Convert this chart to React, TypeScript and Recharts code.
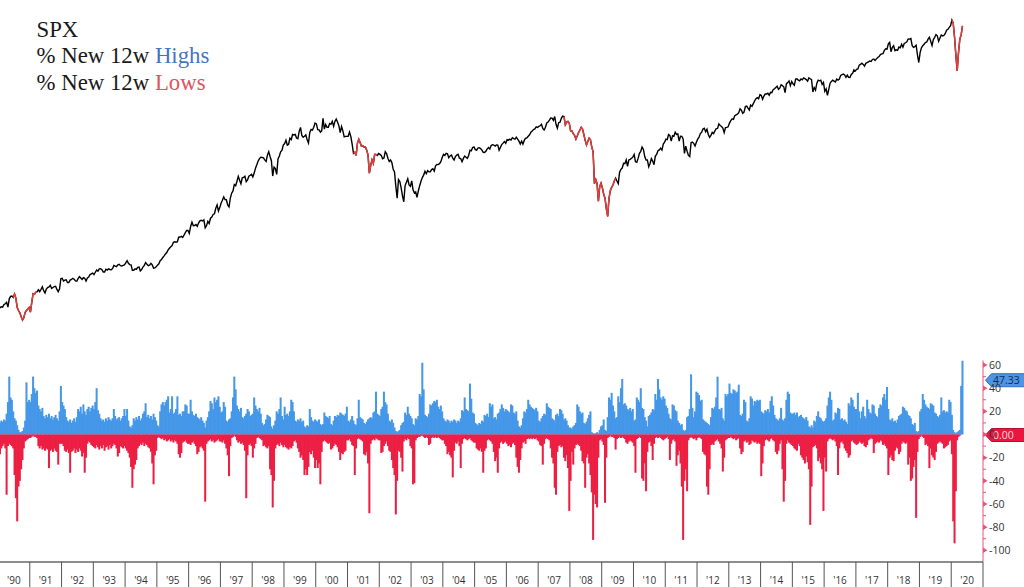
import React from 'react';
import { LineChart, Line, XAxis, YAxis, BarChart, Bar, ReferenceLine } from 'recharts';

// Half-month bins starting January 1990
const FIRST_YEAR = 1990;
const BINS_PER_YEAR = 24;
const YEARS = [1990, 1991, 1992, 1993, 1994, 1995, 1996, 1997, 1998, 1999, 2000, 2001, 2002, 2003, 2004, 2005, 2006, 2007, 2008, 2009, 2010, 2011, 2012, 2013, 2014, 2015, 2016, 2017, 2018, 2019, 2020];

const SPX = [
  340, 329, 332, 331, 338, 340, 344, 331, 354, 361, 362, 358, 368, 356, 330, 322, 316, 306, 298, 304, 317, 322, 326, 330,
  318, 344, 369, 367, 373, 375, 381, 375, 382, 390, 378, 371, 383, 388, 390, 395, 385, 388, 391, 392, 382, 375, 384, 417,
  418, 409, 412, 413, 404, 404, 412, 414, 418, 415, 409, 408, 417, 424, 419, 414, 420, 418, 409, 419, 422, 431, 433, 436,
  431, 439, 447, 443, 451, 452, 448, 440, 440, 450, 447, 451, 449, 448, 452, 464, 461, 459, 466, 468, 463, 462, 464, 466,
  474, 482, 472, 467, 466, 446, 446, 451, 449, 457, 458, 444, 449, 458, 464, 475, 468, 463, 465, 472, 466, 454, 455, 459,
  465, 470, 482, 487, 495, 501, 509, 515, 526, 533, 540, 545, 560, 562, 560, 562, 583, 584, 587, 582, 593, 605, 616, 616,
  601, 636, 659, 640, 641, 646, 637, 654, 666, 669, 665, 671, 629, 640, 663, 652, 680, 687, 701, 705, 737, 757, 721, 741,
  768, 786, 808, 791, 790, 757, 745, 801, 833, 848, 893, 885, 917, 954, 925, 899, 943, 947, 955, 915, 928, 955, 963, 970,
  950, 980, 1020, 1049, 1080, 1102, 1115, 1112, 1108, 1091, 1077, 1134, 1165, 1121, 1083, 957, 1029, 1017, 970, 1099, 1125, 1164, 1180, 1229,
  1245, 1280, 1230, 1238, 1300, 1286, 1340, 1335, 1340, 1302, 1295, 1373, 1418, 1329, 1310, 1320, 1335, 1283, 1250, 1363, 1395, 1389, 1420, 1469,
  1460, 1394, 1390, 1366, 1380, 1527, 1400, 1452, 1420, 1421, 1465, 1455, 1490, 1431, 1490, 1518, 1480, 1437, 1360, 1429, 1380, 1315, 1320, 1320,
  1320, 1366, 1320, 1240, 1150, 1160, 1130, 1249, 1290, 1256, 1220, 1224, 1210, 1211, 1180, 1134, 980, 1041, 1090, 1060, 1140, 1139, 1130, 1148,
  1140, 1130, 1100, 1107, 1165, 1147, 1105, 1077, 1090, 1067, 1010, 990, 880, 800, 930, 916, 870, 815, 777, 886, 910, 936, 890, 880,
  920, 856, 835, 841, 805, 848, 885, 917, 945, 964, 995, 975, 1000, 990, 990, 1008, 1015, 996, 1040, 1051, 1050, 1058, 1075, 1112,
  1140, 1131, 1150, 1145, 1110, 1126, 1135, 1107, 1090, 1121, 1135, 1141, 1105, 1102, 1075, 1104, 1125, 1115, 1105, 1130, 1180, 1174, 1205, 1212,
  1185, 1181, 1200, 1204, 1195, 1181, 1160, 1157, 1170, 1192, 1205, 1191, 1225, 1234, 1230, 1220, 1230, 1229, 1180, 1207, 1235, 1249, 1265, 1248,
  1285, 1280, 1290, 1281, 1305, 1295, 1290, 1311, 1290, 1270, 1240, 1270, 1240, 1277, 1300, 1304, 1320, 1336, 1365, 1378, 1395, 1401, 1425, 1418,
  1430, 1438, 1455, 1407, 1390, 1421, 1470, 1482, 1505, 1531, 1530, 1503, 1550, 1455, 1410, 1474, 1480, 1527, 1555, 1549, 1450, 1481, 1490, 1468,
  1380, 1379, 1350, 1331, 1290, 1323, 1360, 1386, 1420, 1400, 1340, 1280, 1230, 1267, 1300, 1283, 1210, 1165, 900, 930, 900, 780, 880, 903,
  870, 826, 800, 735, 690, 798, 850, 873, 890, 919, 940, 919, 900, 987, 1010, 1021, 1060, 1057, 1090, 1036, 1090, 1096, 1105, 1115,
  1140, 1074, 1070, 1104, 1150, 1169, 1210, 1187, 1120, 1089, 1090, 1031, 1060, 1102, 1080, 1049, 1125, 1141, 1175, 1183, 1200, 1181, 1240, 1258,
  1290, 1286, 1340, 1327, 1270, 1326, 1320, 1364, 1340, 1345, 1270, 1321, 1320, 1292, 1150, 1219, 1170, 1131, 1120, 1253, 1260, 1247, 1220, 1258,
  1290, 1312, 1350, 1366, 1400, 1408, 1370, 1398, 1340, 1310, 1330, 1362, 1350, 1379, 1405, 1407, 1460, 1441, 1430, 1412, 1360, 1416, 1420, 1426,
  1470, 1498, 1520, 1515, 1560, 1569, 1580, 1598, 1650, 1631, 1590, 1606, 1680, 1686, 1660, 1633, 1700, 1682, 1720, 1757, 1790, 1806, 1790, 1848,
  1840, 1783, 1830, 1859, 1860, 1872, 1840, 1884, 1880, 1924, 1940, 1960, 1980, 1931, 1950, 2003, 1990, 1972, 1880, 2018, 2040, 2068, 1990, 2059,
  2020, 1995, 2100, 2105, 2080, 2068, 2100, 2086, 2120, 2107, 2090, 2063, 2120, 2104, 2090, 1890, 1960, 1920, 2030, 2079, 2070, 2080, 2010, 2044,
  1900, 1940, 1840, 1932, 2030, 2060, 2080, 2065, 2050, 2097, 2080, 2099, 2160, 2174, 2185, 2171, 2130, 2168, 2130, 2126, 2180, 2199, 2260, 2239,
  2270, 2279, 2350, 2364, 2385, 2363, 2330, 2384, 2400, 2412, 2430, 2423, 2460, 2470, 2440, 2472, 2500, 2519, 2560, 2575, 2580, 2648, 2680, 2674,
  2790, 2824, 2620, 2714, 2750, 2641, 2660, 2648, 2720, 2705, 2780, 2718, 2800, 2816, 2840, 2902, 2900, 2914, 2750, 2712, 2730, 2760, 2550, 2400,
  2600, 2704, 2750, 2784, 2820, 2834, 2900, 2946, 2850, 2752, 2890, 2942, 3010, 2980, 2850, 2926, 3000, 2977, 2990, 3038, 3120, 3141, 3190, 3231,
  3386, 3300, 2950, 2550, 2240, 2600, 2900, 3000, 3230,
];

const PCT_NEW_HIGHS = [
  8, 10, 12, 11, 13, 12, 18, 28, 50, 32, 30, 20, 14, 12, 8, 4, 2, 2, 3, 6, 12, 45, 28, 30,
  28, 35, 50, 40, 36, 38, 25, 22, 20, 23, 16, 14, 17, 15, 18, 14, 16, 13, 15, 17, 14, 12, 20, 42,
  28, 25, 22, 15, 12, 11, 13, 10, 12, 14, 11, 15, 22, 20, 24, 18, 26, 20, 17, 22, 24, 20, 23, 25,
  22, 28, 40, 21, 18, 14, 12, 13, 11, 14, 12, 15, 13, 12, 14, 22, 16, 13, 14, 15, 12, 14, 16, 22,
  16, 22, 12, 7, 6, 8, 14, 12, 15, 13, 16, 12, 14, 18, 20, 27, 15, 17, 14, 16, 13, 18, 15, 12,
  8, 7, 20, 26, 28, 25, 28, 30, 33, 19, 22, 33, 18, 19, 22, 33, 17, 18, 16, 20, 20, 26, 25, 18,
  18, 30, 20, 17, 16, 18, 15, 14, 13, 15, 12, 10, 6, 12, 15, 20, 29, 27, 22, 32, 28, 30, 33, 24,
  19, 20, 28, 24, 12, 11, 13, 14, 20, 32, 50, 39, 25, 22, 20, 23, 15, 14, 16, 18, 22, 20, 16, 17,
  18, 32, 25, 22, 20, 23, 18, 10, 8, 9, 13, 17, 16, 15, 7, 5, 8, 12, 20, 18, 22, 32, 16, 13,
  24, 17, 18, 16, 20, 30, 28, 20, 12, 11, 13, 12, 14, 11, 12, 7, 6, 8, 7, 22, 15, 12, 11, 13,
  12, 11, 13, 9, 8, 9, 19, 16, 15, 14, 16, 9, 8, 12, 16, 15, 17, 16, 19, 18, 17, 16, 18, 24,
  12, 11, 13, 16, 12, 9, 8, 14, 30, 15, 14, 13, 10, 9, 11, 13, 14, 15, 14, 19, 20, 37, 18, 17,
  16, 22, 24, 37, 28, 26, 18, 12, 11, 13, 10, 6, 3, 2, 3, 4, 8, 10, 11, 19, 17, 24, 18, 16,
  14, 9, 8, 14, 13, 16, 35, 33, 62, 39, 17, 16, 15, 18, 26, 25, 27, 29, 28, 30, 24, 22, 25, 20,
  14, 12, 11, 13, 12, 10, 12, 11, 13, 12, 10, 12, 11, 14, 21, 20, 32, 22, 21, 20, 44, 31, 19, 18,
  10, 9, 8, 10, 9, 12, 11, 17, 16, 18, 15, 27, 24, 26, 14, 15, 13, 18, 19, 22, 26, 23, 20, 22,
  21, 20, 19, 26, 25, 19, 18, 20, 12, 7, 6, 8, 14, 20, 19, 22, 30, 26, 24, 23, 22, 21, 23, 20,
  12, 11, 14, 16, 18, 17, 27, 24, 23, 22, 14, 13, 12, 17, 18, 16, 22, 21, 18, 13, 14, 12, 8, 6,
  6, 5, 7, 8, 10, 26, 24, 20, 18, 19, 10, 9, 11, 14, 17, 20, 2, 1, 1, 1, 2, 1, 4, 7,
  8, 13, 4, 3, 15, 32, 30, 36, 25, 20, 14, 15, 33, 28, 40, 48, 26, 27, 25, 22, 21, 23, 20, 22,
  12, 13, 32, 30, 28, 40, 23, 22, 15, 12, 7, 16, 17, 19, 22, 21, 35, 30, 48, 39, 32, 30, 33, 31,
  25, 23, 18, 14, 13, 26, 25, 21, 20, 12, 10, 8, 9, 4, 3, 4, 15, 16, 22, 52, 23, 15, 20, 37,
  36, 34, 29, 30, 13, 12, 11, 10, 9, 8, 15, 23, 22, 24, 32, 50, 22, 21, 23, 14, 12, 35, 33, 35,
  44, 36, 35, 39, 38, 36, 37, 43, 17, 16, 18, 30, 28, 12, 11, 14, 33, 31, 25, 29, 28, 30, 29, 30,
  20, 19, 18, 21, 20, 22, 19, 29, 33, 25, 17, 14, 13, 12, 14, 23, 13, 12, 14, 30, 37, 35, 19, 18,
  18, 19, 17, 19, 15, 16, 17, 15, 14, 13, 15, 12, 7, 6, 8, 6, 12, 11, 16, 20, 15, 14, 12, 11,
  12, 14, 25, 32, 37, 30, 12, 13, 19, 18, 23, 22, 13, 14, 12, 13, 11, 9, 27, 25, 32, 30, 24, 22,
  22, 36, 20, 14, 20, 24, 16, 14, 30, 22, 19, 18, 26, 25, 18, 16, 15, 23, 26, 25, 32, 35, 30, 41,
  22, 13, 12, 14, 11, 12, 10, 13, 16, 17, 18, 24, 23, 21, 20, 17, 16, 14, 9, 8, 10, 3, 2, 3,
  20, 22, 35, 30, 26, 24, 23, 22, 27, 26, 25, 19, 18, 16, 15, 17, 32, 20, 21, 19, 20, 19, 30, 28,
  17, 4, 2, 1, 2, 3, 4, 42, 64,
];

const PCT_NEW_LOWS = [
  -15, -17, -12, -10, -8, -12, -52, -10, -8, -9, -10, -12, -35, -55, -75, -45, -40, -30, -22, -12, -6, -5, -4, -3,
  -3, -2, -1, -2, -2, -3, -10, -12, -10, -13, -12, -14, -12, -13, -29, -14, -13, -15, -12, -14, -15, -26, -8, -8,
  -8, -10, -14, -15, -13, -16, -33, -15, -14, -12, -16, -13, -15, -12, -14, -19, -16, -33, -20, -8, -6, -7, -9, -10,
  -11, -12, -9, -11, -13, -10, -12, -9, -14, -11, -10, -13, -9, -12, -10, -8, -9, -12, -19, -16, -10, -11, -12, -10,
  -12, -14, -16, -20, -28, -46, -30, -26, -22, -12, -10, -8, -9, -7, -10, -8, -9, -11, -12, -15, -25, -43, -18, -14,
  -3, -2, -3, -4, -3, -5, -4, -6, -5, -4, -6, -5, -7, -5, -6, -8, -17, -20, -16, -7, -6, -5, -7, -8,
  -8, -9, -7, -6, -8, -10, -17, -15, -11, -10, -12, -14, -58, -8, -6, -5, -4, -6, -5, -7, -6, -5, -4, -6,
  -6, -7, -5, -8, -12, -18, -36, -10, -3, -2, -1, -2, -5, -7, -6, -8, -7, -9, -14, -55, -18, -9, -8, -10,
  -20, -12, -8, -3, -2, -3, -4, -5, -10, -9, -11, -12, -10, -30, -35, -63, -40, -12, -9, -8, -10, -7, -9, -11,
  -9, -11, -12, -13, -11, -12, -10, -6, -5, -7, -12, -15, -20, -18, -22, -35, -30, -35, -28, -15, -17, -14, -20, -29,
  -22, -29, -25, -43, -15, -6, -5, -6, -7, -8, -7, -13, -12, -10, -8, -9, -11, -15, -22, -16, -17, -15, -14, -5,
  -5, -4, -6, -9, -10, -35, -12, -4, -3, -4, -5, -6, -17, -18, -15, -25, -68, -8, -5, -4, -5, -3, -4, -5,
  -5, -16, -15, -10, -8, -6, -10, -14, -15, -22, -29, -35, -69, -40, -14, -15, -20, -32, -6, -4, -5, -3, -4, -10,
  -12, -43, -42, -5, -3, -2, -2, -1, -1, -2, -3, -2, -3, -9, -8, -3, -2, -3, -2, -3, -2, -3, -4, -5,
  -5, -8, -10, -17, -15, -18, -20, -37, -14, -7, -8, -6, -10, -29, -8, -4, -3, -4, -5, -4, -3, -5, -6, -7,
  -7, -12, -13, -14, -12, -15, -33, -14, -12, -5, -4, -5, -6, -8, -15, -23, -20, -33, -12, -7, -6, -8, -7, -6,
  -8, -10, -9, -11, -8, -7, -9, -20, -28, -33, -22, -12, -7, -6, -8, -4, -3, -4, -3, -4, -3, -4, -3, -5,
  -6, -9, -10, -26, -8, -4, -3, -4, -5, -12, -20, -25, -46, -52, -15, -10, -9, -11, -10, -20, -23, -18, -29, -66,
  -40, -15, -26, -12, -9, -8, -9, -10, -14, -23, -25, -46, -20, -17, -25, -35, -50, -91, -52, -60, -63, -20, -5, -4,
  -6, -9, -59, -20, -3, -2, -1, -2, -2, -3, -13, -4, -3, -2, -3, -2, -3, -4, -7, -8, -6, -5, -6, -7,
  -10, -33, -4, -3, -2, -3, -38, -40, -25, -49, -15, -7, -6, -10, -22, -8, -3, -2, -3, -2, -3, -4, -5, -4,
  -3, -2, -4, -22, -8, -5, -4, -6, -27, -18, -14, -25, -45, -91, -40, -30, -49, -5, -3, -2, -3, -4, -3, -5,
  -3, -2, -3, -4, -15, -17, -18, -45, -52, -30, -9, -8, -9, -6, -5, -4, -6, -8, -12, -32, -20, -5, -4, -3,
  -3, -2, -3, -4, -3, -5, -4, -3, -12, -17, -15, -6, -5, -7, -6, -9, -8, -5, -6, -7, -6, -8, -7, -8,
  -36, -25, -10, -5, -4, -5, -6, -4, -3, -5, -6, -15, -17, -14, -8, -5, -30, -58, -40, -8, -5, -7, -8, -9,
  -10, -12, -13, -14, -8, -10, -18, -20, -22, -25, -19, -24, -30, -78, -45, -11, -10, -9, -12, -23, -20, -25, -30, -66,
  -20, -32, -6, -4, -3, -4, -5, -4, -6, -10, -35, -12, -7, -6, -8, -12, -14, -16, -20, -18, -6, -5, -7, -8,
  -9, -8, -6, -7, -8, -7, -10, -11, -9, -5, -4, -3, -4, -16, -8, -7, -6, -7, -5, -6, -9, -8, -10, -12,
  -35, -20, -18, -22, -23, -14, -11, -12, -17, -15, -8, -6, -7, -8, -7, -26, -20, -40, -38, -28, -22, -72, -15, -4,
  -2, -1, -2, -3, -9, -8, -10, -29, -12, -18, -20, -22, -15, -8, -7, -6, -7, -8, -12, -11, -10, -9, -6, -5,
  -17, -75, -94, -49, -5, -2, -1, 0, 0,
];

// bin ranges where the SPX line is drawn red (new-lows regimes)
const LOW_REGIMES = [[11, 29], [268, 286], [427, 466], [720, 728]];
const LAST_HIGH = 47.33;
const LAST_LOW = 0.0;
const RIGHT_TICKS = [60, 50, 40, 30, 20, 10, 0, -10, -20, -30, -40, -50, -60, -70, -80, -90, -100];
const LEGEND = { title: 'SPX', prefix: '% New 12w ', highs: 'Highs', lows: 'Lows' };

const binTime = (i: number) => FIRST_YEAR + (i + 0.5) / BINS_PER_YEAR;
const inRegime = (i: number) => LOW_REGIMES.some(([a, b]) => i >= a && i <= b);

const spxData = SPX.map((v, i) => ({ t: binTime(i), spx: v, spxLow: inRegime(i) ? v : null }));
const barData = PCT_NEW_HIGHS.map((h, i) => ({ t: binTime(i), high: h, low: PCT_NEW_LOWS[i] }));
const xTicks: number[] = [];
YEARS.forEach((y) => { xTicks.push(y, y + 0.5); });
xTicks.push(YEARS[YEARS.length - 1] + 1);

const AXIS_PINK = '#e8557a';
const FONT = "'Open Sans', 'DejaVu Sans', sans-serif";

const YearTick = (props: any) => {
  const { x, y, payload } = props;
  const v = payload.value as number;
  if (Math.abs(v - Math.round(v)) < 1e-6) {
    return <line x1={x} x2={x} y1={y} y2={y + 26} stroke="#555" strokeWidth={1} />;
  }
  const yr = Math.floor(v);
  return (
    <text x={x} y={y + 22.3} textAnchor="middle" fontSize={10} fontFamily={FONT} fill="#333">
      {"'" + String(yr).slice(2)}
    </text>
  );
};

const RightTick = (props: any) => {
  const { x, y, payload } = props;
  const v = payload.value as number;
  if (v % 20 !== 0) {
    return <line x1={x} x2={x + 3} y1={y} y2={y} stroke={AXIS_PINK} strokeWidth={1} />;
  }
  return (
    <g>
      <polygon points={`${x},${y - 2.8} ${x + 4.5},${y} ${x},${y + 2.8}`} fill={AXIS_PINK} />
      <text x={x + 6} y={y} dy="0.35em" fontSize={10.5} fontFamily={FONT} fill="#333">{v}</text>
    </g>
  );
};

const BarShape = (props: any) => {
  const { x, y, width, height, fill } = props;
  if (x == null || y == null || !height) return null;
  const top = Math.min(y, y + height);
  const h = Math.abs(height);
  return <rect x={x - 0.35} y={top} width={width + 0.7} height={h} fill={fill} />;
};

const ValueBox = (props: any) => {
  const { viewBox, text, fill, stroke, color } = props;
  if (!viewBox) return null;
  const ax = viewBox.x + viewBox.width + 2.5;
  const y = viewBox.y + 0.5;
  const h = 13;
  return (
    <g>
      <polygon
        points={`${ax},${y} ${ax + 6},${y - h / 2} ${ax + 46},${y - h / 2} ${ax + 46},${y + h / 2} ${ax + 6},${y + h / 2}`}
        fill={fill}
        stroke={stroke}
        strokeWidth={1}
      />
      <text x={ax + 7.5} y={y} dy="0.35em" fontSize={10.5} fontFamily={FONT} fill={color}>{text}</text>
    </g>
  );
};

export default function App() {
  return (
    <div style={{ position: 'absolute', left: 0, top: 0, width: 1024, height: 587, overflow: 'hidden', background: '#fff' }}>
      <div style={{ position: 'absolute', left: -2.45, top: 0 }}>
        <LineChart width={985} height={340} data={spxData} margin={{ top: 0, right: 0, bottom: 0, left: 0 }}>
          <XAxis dataKey="t" type="number" domain={[1990, 2021]} hide />
          <YAxis type="number" scale="log" domain={[253.6, 3982]} hide allowDataOverflow />
          <Line dataKey="spx" stroke="#000" strokeWidth={1.4} dot={false} isAnimationActive={false} />
          <Line dataKey="spxLow" stroke="#e63c3c" strokeWidth={1.5} dot={false} isAnimationActive={false} connectNulls={false} />
        </LineChart>
      </div>
      <div style={{ position: 'absolute', left: -2.45, top: 340 }}>
        <BarChart width={1027} height={247} data={barData} stackOffset="sign" margin={{ top: 20.4, right: 0, bottom: 0, left: 0 }}>
          <XAxis
            dataKey="t"
            type="number"
            domain={[1990, 2021]}
            ticks={xTicks}
            interval={0}
            tick={<YearTick />}
            tickLine={false}
            tickSize={0}
            tickMargin={0}
            height={25.1}
            axisLine={{ stroke: '#8c8c8c', strokeWidth: 2 }}
            allowDataOverflow
          />
          <YAxis
            orientation="right"
            type="number"
            domain={[-110, 64]}
            ticks={RIGHT_TICKS}
            interval={0}
            tick={<RightTick />}
            tickLine={false}
            tickSize={0}
            tickMargin={0}
            width={42}
            axisLine={{ stroke: AXIS_PINK, strokeWidth: 1 }}
            allowDataOverflow
          />
          <Bar dataKey="high" stackId="s" fill="#4597e8" barSize={1.32} shape={<BarShape />} isAnimationActive={false} />
          <Bar dataKey="low" stackId="s" fill="#ec1f43" barSize={1.32} shape={<BarShape />} isAnimationActive={false} />
          <ReferenceLine y={LAST_HIGH} stroke="none" ifOverflow="visible"
            label={<ValueBox text={LAST_HIGH.toFixed(2)} fill="#4d94e4" stroke="#2f6cc0" color="#0f2d57" />} />
          <ReferenceLine y={LAST_LOW} stroke="none" ifOverflow="visible"
            label={<ValueBox text={LAST_LOW.toFixed(2)} fill="#e8173f" stroke="#b80f2e" color="#ffd6de" />} />
        </BarChart>
      </div>
      <svg width={400} height={110} style={{ position: 'absolute', left: 0, top: 0 }}>
        <text x={36.5} y={36.7} fontFamily="'Liberation Serif', 'Times New Roman', serif" fontSize={22.8} fill="#1a1a1a">{LEGEND.title}</text>
        <text x={36.5} y={63.3} fontFamily="'Liberation Serif', 'Times New Roman', serif" fontSize={22.8} fill="#1a1a1a" style={{ whiteSpace: 'pre' }}>
          {LEGEND.prefix}<tspan fill="#3f74c8">{LEGEND.highs}</tspan>
        </text>
        <text x={36.5} y={90} fontFamily="'Liberation Serif', 'Times New Roman', serif" fontSize={22.8} fill="#1a1a1a" style={{ whiteSpace: 'pre' }}>
          {LEGEND.prefix}<tspan fill="#e3505c">{LEGEND.lows}</tspan>
        </text>
      </svg>
    </div>
  );
}
